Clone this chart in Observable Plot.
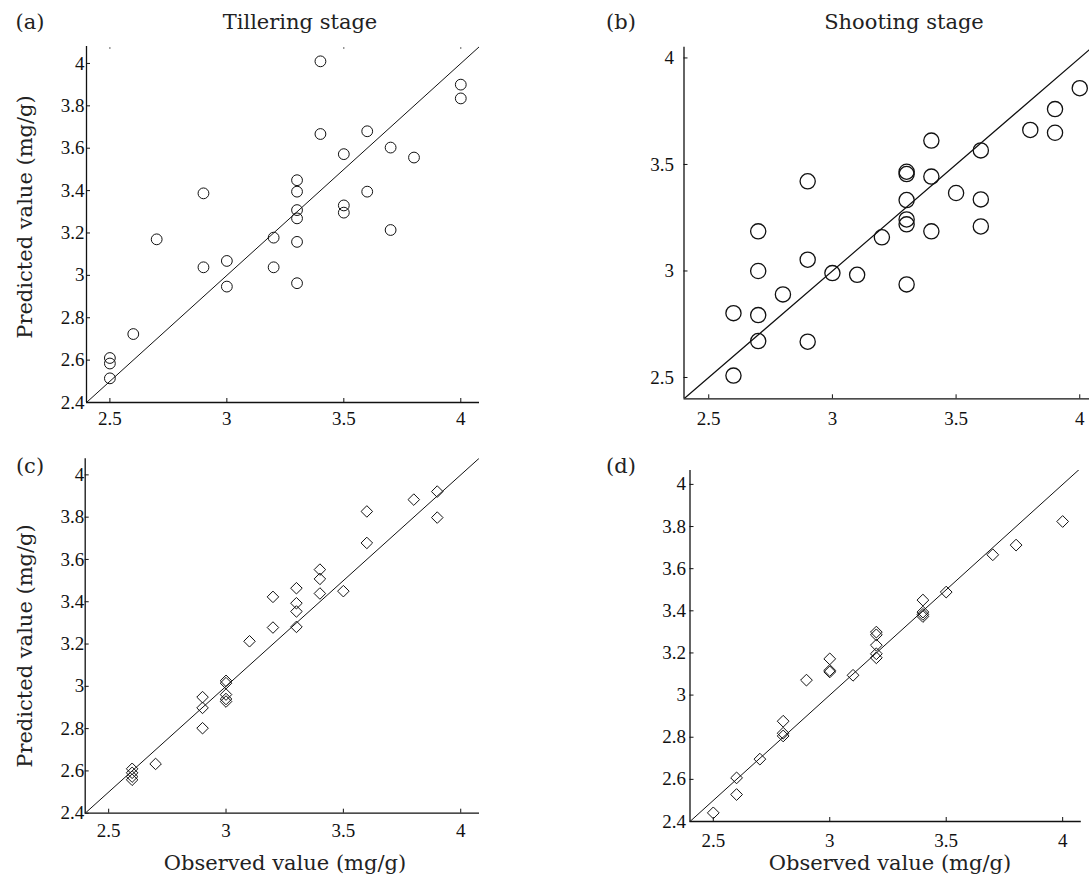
<!DOCTYPE html>
<html><head><meta charset="utf-8">
<script src="https://cdn.jsdelivr.net/npm/d3@7"></script>
<script src="https://cdn.jsdelivr.net/npm/@observablehq/plot@0.6"></script>
<style>
html,body{margin:0;padding:0;background:#fff;overflow:hidden;}
#root{position:relative;width:1089px;height:877px;overflow:hidden;background:#fff;}
.p{position:absolute;}
.p svg{max-width:none !important;}
.p svg text{font-family:"Liberation Serif",serif !important;font-size:19px !important;}
.lbl{position:absolute;font-family:"DejaVu Serif",serif;font-size:21px;line-height:1;color:#222;white-space:nowrap;transform:translate(-50%,-50%);}
.rot{transform:translate(-50%,-50%) rotate(-90deg);}
</style></head><body><div id="root"></div>
<script>
// ---- text ----
const panelLabels = ["(a)", "(b)", "(c)", "(d)"];
const stageTitles = ["Tillering stage", "Shooting stage"];
const yAxisLabel = "Predicted value (mg/g)";
const xAxisLabel = "Observed value (mg/g)";

// ---- tick values ----
const xTicks = [2.5, 3, 3.5, 4];
const topTicksA = [2.5, 3.5, 4];
const yTicksFine = [2.4, 2.6, 2.8, 3, 3.2, 3.4, 3.6, 3.8, 4];
const yTicksCoarse = [2.5, 3, 3.5, 4];
const oneToOne = [2.4, 4.1];

// ---- (a) Tillering stage, calibration ----
const aObserved = [3.4, 4.0, 4.0, 3.4, 3.6, 3.7, 3.8, 3.5, 3.3, 3.3, 2.9, 3.6, 3.5, 3.5, 3.3, 3.3, 3.7, 3.2, 2.7, 3.3, 3.0, 2.9, 3.2, 3.0, 3.3, 2.6, 2.5, 2.5, 2.5];
const aPredicted = [4.01, 3.90, 3.835, 3.667, 3.68, 3.603, 3.556, 3.572, 3.449, 3.395, 3.387, 3.395, 3.33, 3.296, 3.308, 3.269, 3.214, 3.178, 3.17, 3.158, 3.068, 3.038, 3.038, 2.947, 2.963, 2.723, 2.61, 2.584, 2.514];

// ---- (b) Shooting stage, calibration ----
const bObserved = [4.0, 3.9, 3.9, 3.8, 3.4, 3.6, 2.9, 3.3, 3.3, 3.4, 3.5, 3.3, 3.6, 3.3, 3.3, 3.4, 3.6, 2.7, 3.2, 2.9, 2.7, 3.0, 3.1, 3.3, 2.8, 2.6, 2.7, 2.7, 2.9, 2.6];
const bPredicted = [3.858, 3.76, 3.649, 3.662, 3.612, 3.566, 3.421, 3.466, 3.455, 3.443, 3.366, 3.333, 3.336, 3.242, 3.219, 3.186, 3.209, 3.186, 3.158, 3.053, 3.0, 2.99, 2.982, 2.937, 2.89, 2.802, 2.793, 2.671, 2.668, 2.509];

// ---- (c) Tillering stage, validation ----
const cObserved = [3.9, 3.8, 3.9, 3.6, 3.6, 3.4, 3.4, 3.4, 3.5, 3.3, 3.3, 3.3, 3.3, 3.2, 3.2, 3.1, 3.0, 3.0, 3.0, 3.0, 3.0, 2.9, 2.9, 2.9, 2.7, 2.6, 2.6, 2.6, 2.6];
const cPredicted = [3.921, 3.883, 3.798, 3.827, 3.678, 3.552, 3.508, 3.439, 3.45, 3.464, 3.393, 3.354, 3.281, 3.423, 3.278, 3.213, 3.026, 3.015, 2.961, 2.94, 2.928, 2.949, 2.898, 2.802, 2.633, 2.61, 2.591, 2.573, 2.558];

// ---- (d) Shooting stage, validation ----
const dObserved = [4.0, 3.8, 3.7, 3.5, 3.4, 3.4, 3.4, 3.4, 3.2, 3.2, 3.2, 3.2, 3.2, 3.0, 3.0, 3.0, 3.1, 2.9, 2.8, 2.8, 2.8, 2.7, 2.6, 2.6, 2.5];
const dPredicted = [3.824, 3.712, 3.666, 3.489, 3.451, 3.394, 3.383, 3.373, 3.299, 3.286, 3.237, 3.196, 3.177, 3.172, 3.117, 3.11, 3.094, 3.071, 2.876, 2.819, 2.806, 2.696, 2.607, 2.528, 2.441];

const root = document.getElementById("root");
const zip = (xs, ys) => xs.map((x, i) => ({x, y: ys[i]}));
const fmt = d => String(d);
const noLabel = () => "";

function panel(cfg) {
  const pts = zip(cfg.obs, cfg.pred);
  const diag = oneToOne.map(v => ({x: v, y: v}));
  const marks = [
    Plot.ruleX([cfg.xDomain[0]], {stroke: "#111", strokeWidth: 1.3}),
    Plot.ruleY([cfg.yDomain[0]], {stroke: "#111", strokeWidth: 1.3}),
    Plot.axisX(xTicks, {anchor: "bottom", tickSize: -4, tickPadding: cfg.xPad, tickFormat: fmt, stroke: "#111", fill: "#111"}),
    Plot.axisY(cfg.yTicks, {anchor: "left", tickSize: -4, tickPadding: cfg.yPad, tickFormat: fmt, stroke: "#111", fill: "#111"}),
    Plot.line(diag, {x: "x", y: "y", stroke: "#111", strokeWidth: cfg.lineW, clip: true}),
    Plot.dot(pts, {x: "x", y: "y", r: cfg.r, symbol: cfg.symbol, stroke: "#111", fill: "none", strokeWidth: cfg.dotW})
  ];
  if (cfg.topTicks) marks.push(Plot.axisX(cfg.topTicks, {anchor: "top", tickSize: -2, tickFormat: noLabel, stroke: "#666"}));
  const svg = Plot.plot({
    width: cfg.w, height: cfg.h,
    marginLeft: cfg.ml, marginRight: cfg.mr, marginTop: cfg.mt, marginBottom: cfg.mb,
    x: {domain: cfg.xDomain, label: null},
    y: {domain: cfg.yDomain, label: null},
    style: {fontFamily: "Liberation Serif, serif", fontSize: "19px", color: "#111", background: "transparent", overflow: "visible", maxWidth: "none"},
    marks
  });
  const wrap = document.createElement("div");
  wrap.className = "p";
  wrap.style.left = cfg.left + "px";
  wrap.style.top = cfg.top + "px";
  wrap.style.width = cfg.w + "px";
  wrap.appendChild(svg);
  root.appendChild(wrap);
}

panel({left: 0, top: 0, w: 490, h: 430, ml: 86, mr: 11, mt: 46, mb: 28,
  xDomain: [2.4, 4.08], yDomain: [2.4, 4.08], yTicks: yTicksFine, xPad: 13, yPad: 6,
  obs: aObserved, pred: aPredicted, symbol: "circle", r: 5.4, dotW: 1, lineW: 1, topTicks: topTicksA});
panel({left: 600, top: 0, w: 504, h: 430, ml: 83.5, mr: 0, mt: 46.8, mb: 31.7,
  xDomain: [2.4, 4.1], yDomain: [2.4, 4.05], yTicks: yTicksCoarse, xPad: 17, yPad: 14,
  obs: bObserved, pred: bPredicted, symbol: "circle", r: 7.6, dotW: 1.3, lineW: 1.2});
panel({left: 0, top: 430, w: 490, h: 447, ml: 84.7, mr: 11, mt: 28.3, mb: 64.3,
  xDomain: [2.4, 4.08], yDomain: [2.4, 4.076], yTicks: yTicksFine, xPad: 14, yPad: 5,
  obs: cObserved, pred: cPredicted, symbol: "diamond2", r: 5.2, dotW: 1, lineW: 1});
panel({left: 600, top: 430, w: 489, h: 447, ml: 89.5, mr: 8.2, mt: 40, mb: 56,
  xDomain: [2.4, 4.08], yDomain: [2.4, 4.066], yTicks: yTicksFine, xPad: 16, yPad: 8,
  obs: dObserved, pred: dPredicted, symbol: "diamond2", r: 5.3, dotW: 1, lineW: 1});

function label(text, cx, cy, rotate) {
  const d = document.createElement("div");
  d.className = "lbl" + (rotate ? " rot" : "");
  d.textContent = text;
  d.style.left = cx + "px";
  d.style.top = cy + "px";
  root.appendChild(d);
}
label(panelLabels[0], 30, 22);
label(stageTitles[0], 300, 22);
label(panelLabels[1], 621, 22);
label(stageTitles[1], 904, 22);
label(panelLabels[2], 30, 466);
label(panelLabels[3], 621, 466);
label(yAxisLabel, 25, 217, true);
label(yAxisLabel, 25, 646, true);
label(xAxisLabel, 285, 863);
label(xAxisLabel, 890, 863);
</script></body></html>
